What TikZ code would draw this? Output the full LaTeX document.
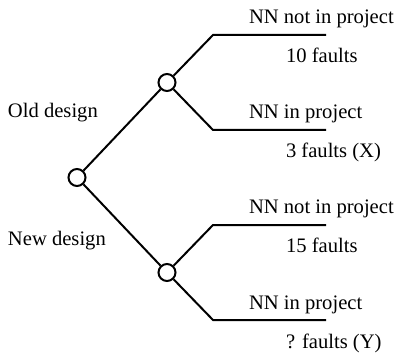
\documentclass[tikz,border=0pt]{standalone}
\usepackage{fontspec}
\setmainfont{Liberation Serif}
\usepackage{tikz}
\usetikzlibrary{positioning}

\begin{document}
\begin{tikzpicture}[line width=1pt ,node distance = 47.5pt and 45pt ,on grid ,chance/.style ={ circle , draw , fill=white , minimum size =8.5pt , inner sep =0pt } ,lbl/.style ={ anchor=base west , inner sep=0pt , font=\fontsize{10.3}{12}\selectfont }]
\useasboundingbox (-38.5pt,-87.75pt) rectangle (159pt,88.75pt);
\node[chance] (root) {};
\node[chance] (old) [above right = of root] {};
\node[chance] (new) [below right = of root] {};
% branch corners and line ends
\coordinate[above right = 23.75pt and 23pt of old] (o1);
\coordinate[below right = 23.75pt and 23pt of old] (o2);
\coordinate[above right = 23.75pt and 23pt of new] (n1);
\coordinate[below right = 23.75pt and 23pt of new] (n2);
\coordinate[right = 56.5pt of o1] (o1e);
\coordinate[right = 56.5pt of o2] (o2e);
\coordinate[right = 56.5pt of n1] (n1e);
\coordinate[right = 56.5pt of n2] (n2e);
\path (root) edge (old);
\path (root) edge (new);
\draw (old) -- (o1) -- (o1e);
\draw (old) -- (o2) -- (o2e);
\draw (new) -- (n1) -- (n1e);
\draw (new) -- (n2) -- (n2e);
% labels
\node (oldlbl) [above left = 30pt and 35pt of root ,lbl] {Old design};
\node (newlbl) [below left = 34pt and 35pt of root ,lbl] {New design};
\node (o1a) [above right = 5.5pt and 17.5pt of o1 ,lbl] {NN not in project};
\node (o1b) [below right = 14pt and 36pt of o1 ,lbl] {10 faults};
\node (o2a) [above right = 5.5pt and 17.5pt of o2 ,lbl] {NN in project};
\node (o2b) [below right = 14pt and 36pt of o2 ,lbl] {3 faults (X)};
\node (n1a) [above right = 5.5pt and 17.5pt of n1 ,lbl] {NN not in project};
\node (n1b) [below right = 14pt and 36pt of n1 ,lbl] {15 faults};
\node (n2a) [above right = 5.5pt and 17.5pt of n2 ,lbl] {NN in project};
\node (n2b) [below right = 14pt and 36pt of n2 ,lbl] {? faults (Y)};
\end{tikzpicture}
\end{document}
